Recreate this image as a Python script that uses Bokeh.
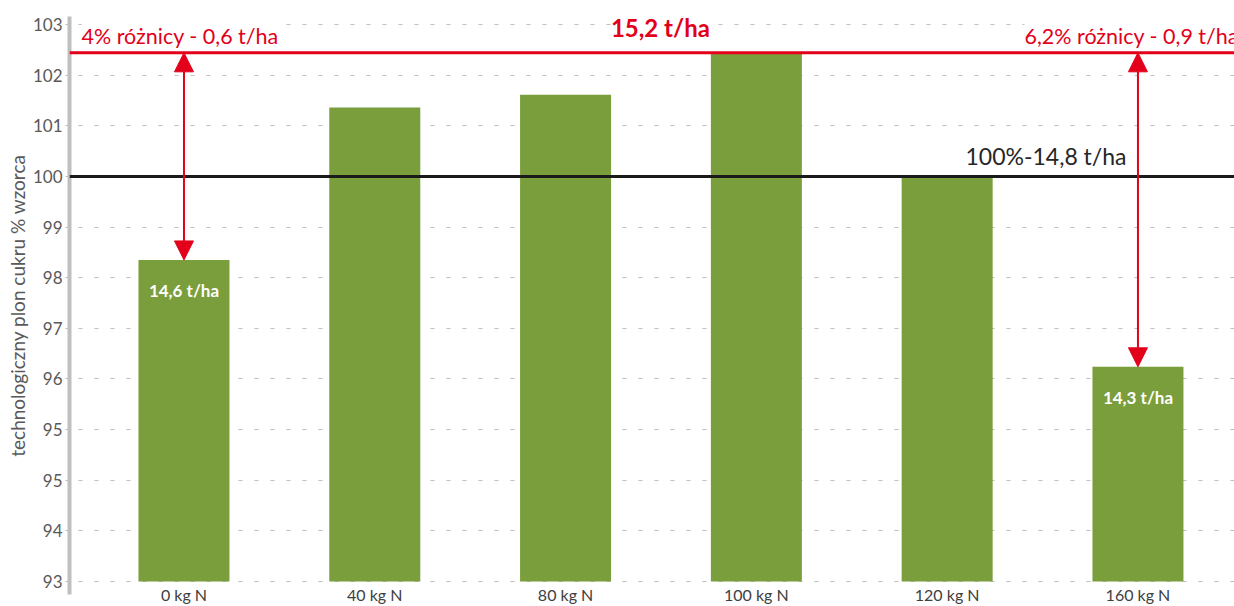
from bokeh.plotting import figure
from bokeh.models import Span, Label, Arrow, NormalHead, ColumnDataSource, FixedTicker, Range1d
from bokeh.core.properties import value
from bokeh.embed import file_html
from bokeh.resources import INLINE

# ---- data ----
categories = ["0 kg N", "40 kg N", "80 kg N", "100 kg N", "120 kg N", "160 kg N"]
values = [98.35, 101.36, 101.61, 102.44, 100.0, 96.24]
bar_labels = ["14,6 t/ha", "", "", "", "", "14,3 t/ha"]
y_ticks = [92, 93, 94, 95, 96, 97, 98, 99, 100, 101, 102, 103]
y_tick_labels = ["93", "94", "95", "95", "96", "97", "98", "99", "100", "101", "102", "103"]
reference_level = 100.0
reference_text = "100%-14,8 t/ha"
max_text = "15,2 t/ha"
left_diff_text = "4% różnicy - 0,6 t/ha"
right_diff_text = "6,2% różnicy - 0,9 t/ha"

GREEN = "#7b9e3c"
RED = "#e2001a"
FONT = "Lato"

xs = list(range(len(categories)))
base = y_ticks[0]
max_val = max(values)

p = figure(width=1234, height=606, output_backend="svg", toolbar_location=None,
           x_range=Range1d(-0.600, 5.506), y_range=Range1d(91.744, 103.157),
           min_border_left=69, min_border_right=0, min_border_top=16, min_border_bottom=2)
p.outline_line_color = None
p.background_fill_color = "white"
p.border_fill_color = "white"

src = ColumnDataSource(dict(x=xs, top=values, label=bar_labels,
                            ly=[v - 0.6 for v in values]))
p.vbar(x="x", top="top", bottom=base, width=0.477, source=src,
       fill_color=GREEN, line_color=None)

# grid
p.xgrid.visible = False
p.ygrid.ticker = FixedTicker(ticks=y_ticks)
p.ygrid.grid_line_color = "#bfbfbf"
p.ygrid.grid_line_dash = "4 12"
p.ygrid.grid_line_dash_offset = 7
p.ygrid.grid_line_width = 1

# y axis
p.yaxis.ticker = FixedTicker(ticks=y_ticks)
p.yaxis.major_label_overrides = {t: l for t, l in zip(y_ticks, y_tick_labels)}
p.yaxis.axis_line_color = "#bfbfbf"
p.yaxis.axis_line_width = 4
p.yaxis.major_tick_line_color = "#bfbfbf"
p.yaxis.major_tick_out = 4
p.yaxis.major_tick_in = 0
p.yaxis.minor_tick_line_color = None
p.yaxis.major_label_standoff = 3
p.yaxis.major_label_text_font = FONT
p.yaxis.major_label_text_font_size = "17px"
p.yaxis.major_label_text_color = "#595959"
p.yaxis.axis_label = "technologiczny plon cukru % wzorca"
p.yaxis.axis_label_text_font = FONT
p.yaxis.axis_label_text_font_style = "normal"
p.yaxis.axis_label_text_font_size = "19px"
p.yaxis.axis_label_text_color = "#595959"
p.yaxis.axis_label_standoff = 1

# x axis
p.xaxis.ticker = FixedTicker(ticks=xs)
p.xaxis.major_label_overrides = {i: c for i, c in zip(xs, categories)}
p.xaxis.axis_line_color = None
p.xaxis.major_tick_line_color = None
p.xaxis.minor_tick_line_color = None
p.xaxis.major_tick_out = 0
p.xaxis.major_tick_in = 0
p.xaxis.major_label_standoff = -10
p.xaxis.major_label_text_font = FONT
p.xaxis.major_label_text_font_size = "16px"
p.xaxis.major_label_text_color = "#404040"

# reference lines
p.add_layout(Span(location=reference_level, dimension="width", line_color="#1a1a1a", line_width=3))
p.add_layout(Span(location=max_val, dimension="width", line_color=RED, line_width=3))

# arrows from the max level to the first and last bars
for i in (0, len(values) - 1):
    p.add_layout(Arrow(x_start=xs[i], y_start=max_val, x_end=xs[i], y_end=values[i],
                       line_color=RED, line_width=2,
                       start=NormalHead(size=19, fill_color=RED, line_color=RED),
                       end=NormalHead(size=19, fill_color=RED, line_color=RED)))

# bar value labels
p.text(x="x", y="ly", text="label", source=src, text_color="white",
       text_font=value(FONT), text_font_style="bold", text_font_size="17px",
       text_align="center", text_baseline="middle")

# annotations
p.add_layout(Label(x=-0.537, y=102.78, text=left_diff_text, text_color=RED,
                   text_font=FONT, text_font_size="21.5px", text_baseline="middle",
                   background_fill_color="white"))
p.add_layout(Label(x=4.405, y=102.78, text=right_diff_text, text_color=RED,
                   text_font=FONT, text_font_size="21.5px", text_baseline="middle",
                   background_fill_color="white"))
p.add_layout(Label(x=2.497, y=102.93, text=max_text, text_color=RED,
                   text_font=FONT, text_font_size="24px", text_font_style="bold",
                   text_align="center", text_baseline="middle",
                   background_fill_color="white"))
p.add_layout(Label(x=4.096, y=100.41, text=reference_text, text_color="#262626",
                   text_font=FONT, text_font_size="23px", text_baseline="middle"))

open("out.html", "w").write(file_html(p, INLINE))
